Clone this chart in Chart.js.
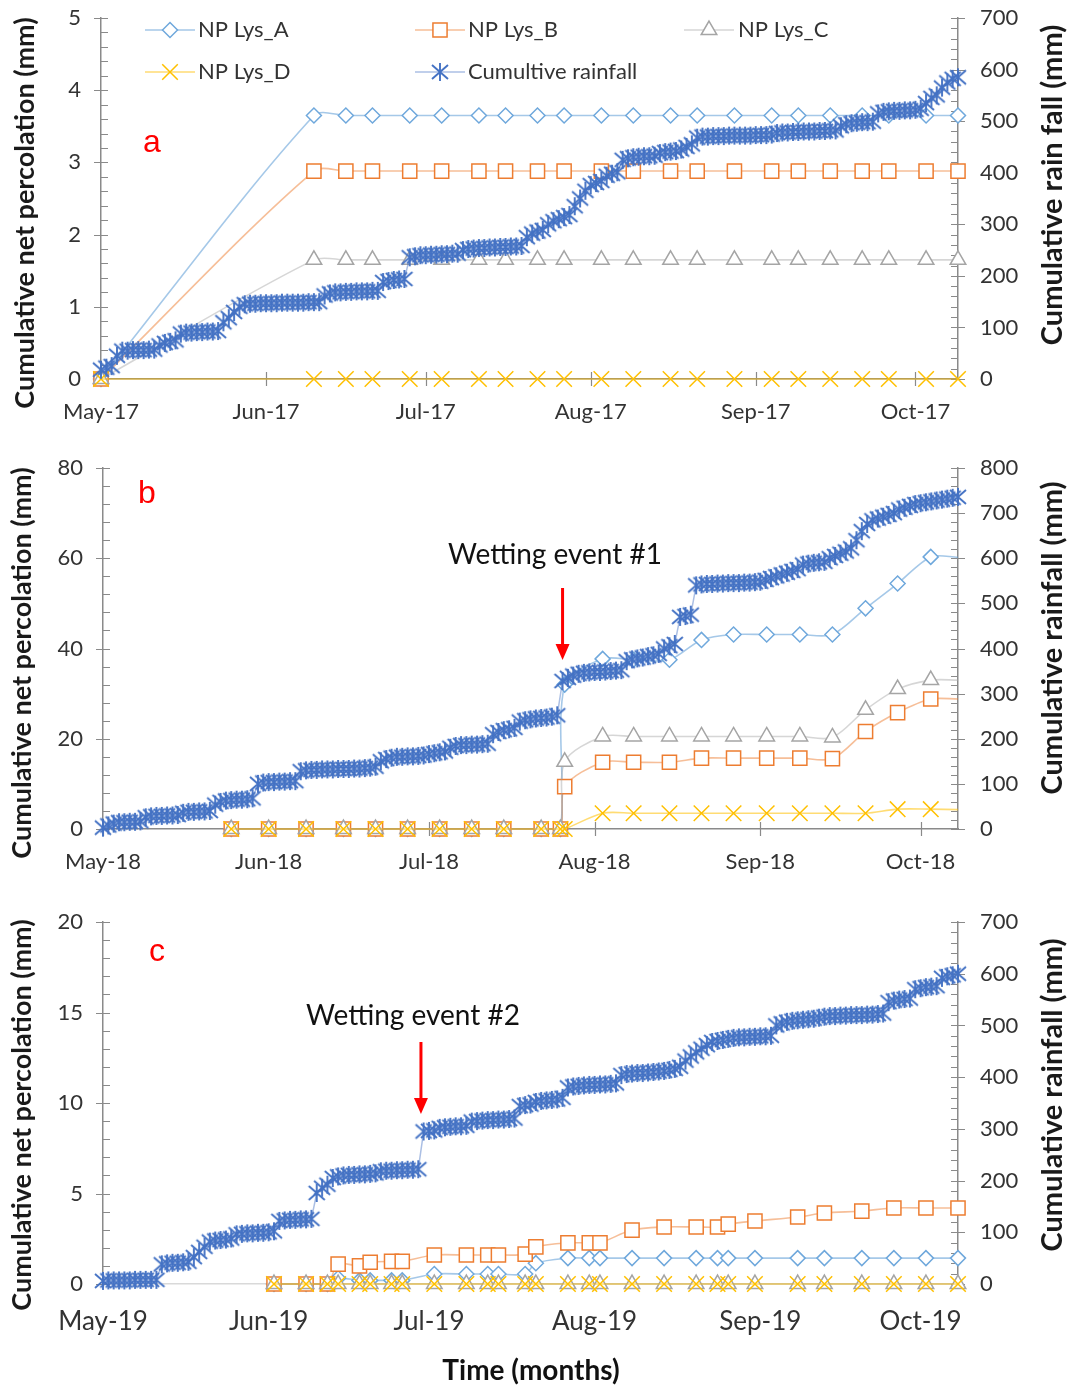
<!DOCTYPE html>
<html>
<head>
<meta charset="utf-8">
<script src="https://cdn.jsdelivr.net/npm/chart.js@4.4.1/dist/chart.umd.min.js"></script>
<style>
  html, body { margin: 0; padding: 0; background: #fff; }
  body { width: 1073px; height: 1387px; position: relative; overflow: hidden; }
  canvas { position: absolute; left: 0; }
  #chartA { top: 0; }
  #chartB { top: 445px; }
  #chartC { top: 890px; }
</style>
</head>
<body>
<canvas id="chartA" width="1073" height="445"></canvas>
<canvas id="chartB" width="1073" height="445"></canvas>
<canvas id="chartC" width="1073" height="497"></canvas>
<script>
// days since 1 May of each year
var monthDays = [0, 31, 61, 92, 123, 153];
var monthsA = ['May-17', 'Jun-17', 'Jul-17', 'Aug-17', 'Sep-17', 'Oct-17'];
var monthsB = ['May-18', 'Jun-18', 'Jul-18', 'Aug-18', 'Sep-18', 'Oct-18'];
var monthsC = ['May-19', 'Jun-19', 'Jul-19', 'Aug-19', 'Sep-19', 'Oct-19'];

// ---- panel a (2017) ----
var aDays = [0, 40, 46, 51, 58, 64, 71, 76, 82, 87, 94, 100, 107, 112, 119, 126, 131, 137, 143, 148, 155, 161];
var aLysA = [0, 3.65, 3.65, 3.65, 3.65, 3.65, 3.65, 3.65, 3.65, 3.65, 3.65, 3.65, 3.65, 3.65, 3.65, 3.65, 3.65, 3.65, 3.65, 3.65, 3.65, 3.65];
var aLysB = [0, 2.88, 2.88, 2.88, 2.88, 2.88, 2.88, 2.88, 2.88, 2.88, 2.88, 2.88, 2.88, 2.88, 2.88, 2.88, 2.88, 2.88, 2.88, 2.88, 2.88, 2.88];
var aLysC = [0, 1.65, 1.65, 1.65, 1.65, 1.65, 1.65, 1.65, 1.65, 1.65, 1.65, 1.65, 1.65, 1.65, 1.65, 1.65, 1.65, 1.65, 1.65, 1.65, 1.65, 1.65];
var aLysD = [0, 0, 0, 0, 0, 0, 0, 0, 0, 0, 0, 0, 0, 0, 0, 0, 0, 0, 0, 0, 0, 0];
// daily cumulative rainfall (mm), day 0..161
var aRain = [
  18, 22, 25, 45, 55, 55, 56, 56, 56, 57,
  57, 65, 70, 72, 75, 88, 90, 90, 91, 91,
  92, 92, 93, 110, 118, 130, 140, 145, 146, 146,
  147, 147, 147, 147, 148, 148, 148, 148, 148, 149,
  149, 149, 162, 166, 168, 168, 169, 169, 170, 170,
  170, 171, 171, 188, 190, 192, 193, 194, 236, 238,
  240, 240, 241, 241, 242, 242, 243, 243, 250, 252,
  253, 254, 254, 255, 255, 256, 256, 257, 257, 258,
  275, 282, 286, 289, 300, 306, 310, 314, 318, 335,
  350, 365, 376, 380, 384, 394, 398, 401, 425, 428,
  430, 431, 432, 432, 433, 438, 440, 441, 442, 445,
  450, 455, 468, 470, 470, 471, 471, 471, 472, 472,
  472, 472, 472, 473, 473, 473, 474, 477, 478, 478,
  479, 479, 480, 480, 480, 481, 481, 482, 482, 490,
  494, 496, 497, 498, 498, 499, 515, 518, 519, 520,
  520, 521, 521, 522, 524, 535, 545, 550, 565, 575,
  582, 585
];

// ---- panel b (2018) ----
var bDays = [24, 31, 38, 45, 51, 57, 63, 69, 75, 82, 85.6, 86.4, 93.5, 99.3, 106, 112, 118, 124.2, 130.4, 136.5, 142.7, 148.7, 154.9, 160];
var bLysA = [0, 0, 0, 0, 0, 0, 0, 0, 0, 0, 0, 32, 37.7, 37.5, 37.5, 41.9, 43.1, 43.1, 43.1, 43.1, 48.9, 54.4, 60.3, 60.2];
var bLysB = [0, 0, 0, 0, 0, 0, 0, 0, 0, 0, 0, 9.4, 14.8, 14.8, 14.8, 15.7, 15.7, 15.7, 15.7, 15.6, 21.6, 25.8, 28.8, 28.8];
var bLysC = [0, 0, 0, 0, 0, 0, 0, 0, 0, 0, 0, 14.9, 20.5, 20.5, 20.5, 20.5, 20.5, 20.5, 20.5, 20.3, 26.4, 31, 33, 33];
var bLysD = [0, 0, 0, 0, 0, 0, 0, 0, 0, 0, 0, 0, 3.5, 3.5, 3.5, 3.5, 3.5, 3.5, 3.5, 3.5, 3.5, 4.4, 4.4, 4.3];
// day 0..160
var bRain = [
  3, 8, 12,
  15, 15, 16, 16, 17,
  26, 28, 29, 29, 30, 30, 31,
  36, 38, 38, 39, 39, 40,
  54, 60, 63, 64, 65, 65, 66, 68,
  100, 103, 104, 104, 105, 105, 106, 106,
  128, 130, 131, 131, 132, 132, 132, 133, 133, 133, 134, 134, 135, 136, 138,
  150, 155, 158, 160, 160, 161, 161, 162, 163,
  166, 168, 170, 172,
  180, 184, 186, 186, 187, 187, 188, 189,
  210, 215, 219, 221, 224,
  238, 241, 243, 245, 246, 247, 249, 252, 328,
  335, 340, 344, 346, 347, 348, 348, 349, 350, 351, 352,
  372, 376, 378, 380, 383, 385, 388,
  400, 405, 410,
  470, 472, 475,
  540, 542, 543, 543, 544, 544, 545, 545, 545, 546, 546, 547, 548,
  552, 556, 560, 564, 568, 572, 576,
  586, 588, 590, 591, 592,
  600, 605, 610, 615, 622,
  640, 660, 676,
  684, 688, 692, 696, 700,
  708, 712, 716, 720, 722, 724, 726, 728, 730, 732, 734, 736
];

// ---- panel c (2019) ----
var cDays = [32, 38, 42, 44, 48, 50, 54, 56, 62, 68, 72, 74, 79, 81, 87, 91, 93, 99, 105, 111, 115, 117, 122, 130, 135, 142, 148, 154, 160];
var cLysA = [0, 0, 0, 0.32, 0.2, 0.2, 0.2, 0.2, 0.55, 0.55, 0.55, 0.55, 0.55, 1.15, 1.43, 1.43, 1.43, 1.43, 1.43, 1.43, 1.43, 1.43, 1.43, 1.43, 1.43, 1.43, 1.43, 1.43, 1.43];
var cLysB = [0, 0, 0, 1.1, 1.0, 1.2, 1.25, 1.25, 1.6, 1.6, 1.6, 1.6, 1.65, 2.05, 2.27, 2.27, 2.27, 2.98, 3.15, 3.15, 3.15, 3.31, 3.48, 3.7, 3.92, 4.03, 4.2, 4.2, 4.2];
var cLysC = [0, 0, 0, 0, 0, 0, 0, 0, 0, 0, 0, 0, 0, 0, 0, 0, 0, 0, 0, 0, 0, 0, 0, 0, 0, 0, 0, 0, 0];
var cLysD = [0, 0, 0, 0, 0, 0, 0, 0, 0, 0, 0, 0, 0, 0, 0, 0, 0, 0, 0, 0, 0, 0, 0, 0, 0, 0, 0, 0, 0];
// day 0..160
var cRain = [
  6, 7, 7, 7, 7, 7, 8, 8, 8, 8, 8,
  38, 40, 41, 41, 42, 43,
  52, 62, 72,
  82, 84, 85, 86, 88,
  96, 97, 98, 98, 99, 99, 100, 102,
  122, 123, 124, 124, 125, 125, 126,
  176, 186, 192,
  205, 208, 210, 211, 211, 212, 212, 213, 214,
  218, 219, 219, 220, 220, 221, 221, 222,
  295, 296, 297,
  302, 303, 304, 305, 305, 306,
  314, 315, 316, 317, 317, 318, 318, 319, 320,
  344, 346, 347,
  352, 354, 355, 356, 357, 360,
  380, 382, 383, 384, 385, 385, 386, 386, 387, 388,
  404, 406, 407, 408, 408, 409, 410, 411,
  412, 414, 416, 420,
  432, 440, 448, 455, 462,
  468, 470, 472, 474,
  476, 477, 477, 478, 478, 479, 479, 480,
  500, 504, 507, 509, 510, 511, 512, 513, 515,
  517, 518, 518, 519, 519, 520, 520, 520, 521, 521, 522, 523,
  545, 548, 550, 551, 552,
  570, 572, 574, 575, 576,
  592, 595, 597, 600
];

var FONT = 'Lato, "Noto Sans", sans-serif';
var TEXT = '#333333';
var AXIS = '#8a8a8a';

// excel style asterisk marker for the rainfall series
function makeAsterisk() {
  var c = document.createElement('canvas');
  c.width = 20; c.height = 20;
  var g = c.getContext('2d');
  g.strokeStyle = '#4472C4';
  g.lineWidth = 1.9;
  g.beginPath();
  g.moveTo(2, 3); g.lineTo(18, 17);
  g.moveTo(18, 3); g.lineTo(2, 17);
  g.moveTo(10, 1); g.lineTo(10, 19);
  g.stroke();
  return c;
}
var asterisk = makeAsterisk();

var styles = [
  { label: 'NP Lys_A', line: 'rgba(91,155,213,0.55)', mark: '#6FA8DC', shape: 'rectRot', r: 7.5 },
  { label: 'NP Lys_B', line: 'rgba(237,125,49,0.5)', mark: '#ED7D31', shape: 'rect', r: 10 },
  { label: 'NP Lys_C', line: 'rgba(165,165,165,0.45)', mark: '#A5A5A5', shape: 'triangle', r: 9 },
  { label: 'NP Lys_D', line: 'rgba(255,192,0,0.55)', mark: '#FFC000', shape: 'crossRot', r: 11 },
  { label: 'Cumultive rainfall', line: 'rgba(68,114,196,0.45)', mark: '#4472C4', shape: asterisk, r: 9 }
];

function percSet(k, days, vals, hideLast) {
  var s = styles[k];
  var last = days.length - 1;
  return {
    label: s.label,
    data: days.map(function (d, i) { return { x: d, y: vals[i] }; }),
    yAxisID: 'y',
    borderColor: s.line,
    borderWidth: 1.6,
    backgroundColor: '#fff',
    pointStyle: s.shape,
    pointRadius: function (c) { return hideLast && c.dataIndex === last ? 0 : s.r; },
    pointBorderColor: s.mark,
    pointBackgroundColor: '#fff',
    pointBorderWidth: 1.5,
    tension: 0.3,
    clip: false,
    order: 4 - k + 1
  };
}

function rainSet(vals) {
  var s = styles[4];
  return {
    label: s.label,
    data: vals.map(function (v, i) { return { x: i, y: v }; }),
    yAxisID: 'y2',
    borderColor: s.line,
    borderWidth: 1.5,
    pointStyle: asterisk,
    pointRadius: 9,
    tension: 0,
    clip: false,
    order: 0
  };
}

function vtext(ctx, s, x, y, font) {
  ctx.save();
  ctx.translate(x, y);
  ctx.rotate(-Math.PI / 2);
  ctx.textAlign = 'center';
  ctx.textBaseline = 'middle';
  ctx.font = font;
  ctx.fillStyle = '#1a1a1a';
  ctx.fillText(s, 0, 0);
  ctx.restore();
}

function drawMarker(ctx, s, x, y) {
  ctx.save();
  ctx.strokeStyle = s.mark;
  ctx.fillStyle = '#fff';
  ctx.lineWidth = 1.5;
  if (Chart.helpers && Chart.helpers.drawPoint) {
    Chart.helpers.drawPoint(ctx, { pointStyle: s.shape, radius: s.r, rotation: 0, borderWidth: 1.5 }, x, y);
  }
  ctx.restore();
}

var decor = {
  id: 'decor',
  beforeDatasetsDraw: function (chart, args, o) {
    var ctx = chart.ctx, a = chart.chartArea;
    var yl = chart.scales.y, yr = chart.scales.y2, xs = chart.scales.x;
    ctx.save();
    ctx.strokeStyle = AXIS;
    ctx.lineWidth = 1.2;
    ctx.beginPath();
    var n = Math.round((yl.max - yl.min) / o.leftMinor), i, v, py;
    for (i = 0; i <= n; i++) {
      v = yl.min + i * o.leftMinor;
      py = Math.round(yl.getPixelForValue(v)) + 0.5;
      ctx.moveTo(a.left - (i % 5 === 0 ? 7 : 0), py);
      ctx.lineTo(a.left + 7, py);
    }
    n = Math.round((yr.max - yr.min) / o.rightMinor);
    for (i = 0; i <= n; i++) {
      v = yr.min + i * o.rightMinor;
      py = Math.round(yr.getPixelForValue(v)) + 0.5;
      ctx.moveTo(a.right - 7, py);
      ctx.lineTo(a.right + (i % 5 === 0 ? 7 : 0), py);
    }
    if (o.xTicks) {
      xs.ticks.forEach(function (t) {
        var px = Math.round(xs.getPixelForValue(t.value)) + 0.5;
        ctx.moveTo(px, a.bottom - 7);
        ctx.lineTo(px, a.bottom + 7);
      });
    }
    ctx.stroke();
    ctx.restore();
  },
  afterDraw: function (chart, args, o) {
    var ctx = chart.ctx;
    vtext(ctx, 'Cumulative net percolation (mm)', o.leftTitle[0], o.leftTitle[1], 'bold 27px ' + FONT);
    vtext(ctx, o.rightText, o.rightTitle[0], o.rightTitle[1], 'bold 29px ' + FONT);

    ctx.save();
    ctx.fillStyle = '#FF0000';
    ctx.font = '32px "Liberation Sans", Arial, sans-serif';
    ctx.textAlign = 'center';
    ctx.textBaseline = 'middle';
    ctx.fillText(o.tag[0], o.tag[1], o.tag[2]);
    ctx.restore();

    if (o.event) {
      var ev = o.event;
      var ax = chart.scales.x.getPixelForValue(ev.day);
      ctx.save();
      ctx.font = '28px ' + FONT;
      ctx.fillStyle = '#111';
      ctx.textAlign = 'center';
      ctx.textBaseline = 'middle';
      ctx.fillText(ev.text, ev.tx, ev.ty);
      ctx.strokeStyle = '#FF0000';
      ctx.fillStyle = '#FF0000';
      ctx.lineWidth = 3;
      ctx.beginPath();
      ctx.moveTo(ax, ev.y0);
      ctx.lineTo(ax, ev.y1 - 14);
      ctx.stroke();
      ctx.beginPath();
      ctx.moveTo(ax - 7, ev.y1 - 16);
      ctx.lineTo(ax + 7, ev.y1 - 16);
      ctx.lineTo(ax, ev.y1);
      ctx.closePath();
      ctx.fill();
      ctx.restore();
    }

    if (o.legend) {
      ctx.save();
      ctx.font = '22px ' + FONT;
      ctx.textBaseline = 'middle';
      o.legend.forEach(function (it) {
        var s = styles[it[0]];
        ctx.strokeStyle = s.line;
        ctx.lineWidth = 1.6;
        ctx.beginPath();
        ctx.moveTo(it[1], it[3]);
        ctx.lineTo(it[1] + 50, it[3]);
        ctx.stroke();
        drawMarker(ctx, s, it[1] + 25, it[3]);
        ctx.fillStyle = TEXT;
        ctx.fillText(s.label, it[2], it[3]);
      });
      ctx.restore();
    }

    if (o.xTitle) {
      ctx.save();
      ctx.font = 'bold 28px ' + FONT;
      ctx.fillStyle = '#111';
      ctx.textAlign = 'center';
      ctx.textBaseline = 'middle';
      ctx.fillText(o.xTitle[0], o.xTitle[1], o.xTitle[2]);
      ctx.restore();
    }
  }
};

function fixY(w) {
  return function (s) {
    s.width = w;
    s.paddingTop = 0;
    s.paddingBottom = 0;
  };
}

function makePanel(id, p) {
  var datasets = [
    percSet(0, p.days, p.lysA, p.hideLast),
    percSet(1, p.days, p.lysB, p.hideLast),
    percSet(2, p.days, p.lysC, p.hideLast),
    percSet(3, p.days, p.lysD, p.hideLast),
    rainSet(p.rain)
  ];
  return new Chart(document.getElementById(id), {
    type: 'line',
    data: { datasets: datasets },
    plugins: [decor],
    options: {
      responsive: false,
      animation: false,
      events: [],
      layout: { padding: { top: p.top, left: 0, right: 0, bottom: 0 } },
      plugins: {
        legend: { display: false },
        tooltip: { enabled: false },
        decor: p.decor
      },
      scales: {
        x: {
          type: 'linear',
          min: 0,
          max: p.xMax,
          afterBuildTicks: function (s) { s.ticks = monthDays.map(function (d) { return { value: d }; }); },
          ticks: {
            autoSkip: false,
            maxRotation: 0,
            padding: p.xPad,
            color: TEXT,
            font: { family: FONT, size: p.xFont },
            callback: function (v, i) { return p.months[i]; }
          },
          grid: { display: false, drawTicks: false },
          border: { display: true, color: p.xAxisColor, width: 1.5 },
          afterFit: function (s) { s.height = p.xH; s.paddingLeft = 0; s.paddingRight = 0; }
        },
        y: {
          position: 'left',
          min: 0,
          max: p.yMax,
          ticks: { stepSize: p.yStep, padding: 20, color: TEXT, font: { family: FONT, size: 22 } },
          grid: { display: false, drawTicks: false },
          border: { display: true, color: AXIS, width: 1.5 },
          afterFit: fixY(p.left)
        },
        y2: {
          position: 'right',
          min: 0,
          max: p.y2Max,
          ticks: { stepSize: 100, padding: 22, color: TEXT, font: { family: FONT, size: 22 } },
          grid: { display: false, drawTicks: false },
          border: { display: true, color: AXIS, width: 1.5 },
          afterFit: fixY(1073 - 958)
        }
      }
    }
  });
}

makePanel('chartA', {
  days: aDays, lysA: aLysA, lysB: aLysB, lysC: aLysC, lysD: aLysD, rain: aRain,
  months: monthsA, xMax: 161, yMax: 5, yStep: 1, y2Max: 700,
  top: 18, xH: 66, left: 101, xPad: 20, xFont: 22, xAxisColor: AXIS, hideLast: false,
  decor: {
    leftMinor: 0.2, rightMinor: 20, xTicks: true,
    leftTitle: [25, 213], rightTitle: [1053, 185], rightText: 'Cumulative rain fall (mm)',
    tag: ['a', 152, 143],
    legend: [[0, 145, 198, 30], [1, 415, 468, 30], [2, 684, 738, 30], [3, 145, 198, 72], [4, 415, 468, 72]]
  }
});

makePanel('chartB', {
  days: bDays, lysA: bLysA, lysB: bLysB, lysC: bLysC, lysD: bLysD, rain: bRain,
  months: monthsB, xMax: 160, yMax: 80, yStep: 20, y2Max: 800,
  top: 23, xH: 61, left: 103, xPad: 20, xFont: 22, xAxisColor: AXIS, hideLast: true,
  decor: {
    leftMinor: 4, rightMinor: 20, xTicks: true,
    leftTitle: [22, 218], rightTitle: [1053, 193], rightText: 'Cumulative rainfall (mm)',
    tag: ['b', 147, 49],
    event: { text: 'Wetting event #1', tx: 555, ty: 110, day: 86, y0: 143, y1: 215 }
  }
});

makePanel('chartC', {
  days: cDays, lysA: cLysA, lysB: cLysB, lysC: cLysC, lysD: cLysD, rain: cRain,
  months: monthsC, xMax: 160, yMax: 20, yStep: 5, y2Max: 700,
  top: 32, xH: 103, left: 103, xPad: 22, xFont: 26, xAxisColor: '#d9d9d9', hideLast: false,
  decor: {
    leftMinor: 1, rightMinor: 20, xTicks: false,
    leftTitle: [22, 225], rightTitle: [1053, 205], rightText: 'Cumulative rainfall (mm)',
    tag: ['c', 157, 62],
    event: { text: 'Wetting event #2', tx: 413, ty: 126, day: 59.5, y0: 152, y1: 224 },
    xTitle: ['Time (months)', 531, 481]
  }
});
</script>
</body>
</html>
